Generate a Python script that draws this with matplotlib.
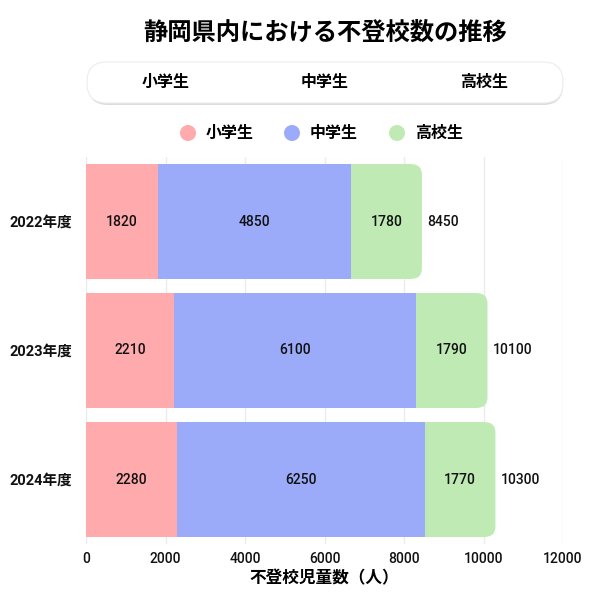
import matplotlib
matplotlib.use("Agg")
import matplotlib.pyplot as plt
from matplotlib.patches import FancyBboxPatch, Circle
import numpy as np

plt.rcParams['font.family'] = ['Roboto', 'Noto Sans CJK JP', 'DejaVu Sans']

years = ["2022年度", "2023年度", "2024年度"]
series_names = ["小学生", "中学生", "高校生"]
elementary = [1820, 2210, 2280]
junior = [4850, 6100, 6250]
high = [1780, 1790, 1770]
totals = [8450, 10100, 10300]
colors = ["#ffaaad", "#9babfa", "#bfeab4"]
xticks = [0, 2000, 4000, 6000, 8000, 10000, 12000]

W = H = 600
fig = plt.figure(figsize=(6, 6), dpi=100)

def fx(px): return px / W
def fy(py): return 1 - py / H

ax = fig.add_axes([fx(86), fy(544), fx(563) - fx(86), fy(157) - fy(544)])
y = np.arange(len(years))
bh = 0.89

ax.barh(y, elementary, height=bh, color=colors[0], zorder=2)
ax.barh(y, junior, height=bh, left=elementary, color=colors[1], zorder=2)
left_h = np.array(elementary) + np.array(junior)
# rounded right-end green segments
rad_x = 270.0
rad_y = 0.08
for i in range(len(years)):
    w = high[i]
    ax.barh(y[i], w - rad_x, height=bh, left=left_h[i], color=colors[2], zorder=2)
    p = FancyBboxPatch((left_h[i], y[i] - bh / 2), w, bh,
                       boxstyle="round,pad=0,rounding_size=%f" % rad_x,
                       mutation_aspect=rad_y / rad_x,
                       facecolor=colors[2], edgecolor='none', zorder=1.9)
    ax.add_patch(p)

numfont = dict(fontsize=10, fontweight='medium', color='#111111', va='center', ha='center')
for i in range(len(years)):
    ax.text(elementary[i] / 2, y[i], str(elementary[i]), zorder=3, **numfont)
    ax.text(elementary[i] + junior[i] / 2, y[i], str(junior[i]), zorder=3, **numfont)
    ax.text(left_h[i] + high[i] / 2, y[i], str(high[i]), zorder=3, **numfont)
    ax.text(totals[i] + 130, y[i], str(totals[i]), zorder=3, fontsize=10,
            fontweight='medium', color='#111111', va='center', ha='left')

ax.set_xlim(0, 12000)
ax.set_ylim(len(years) - 0.5, -0.5)
ax.set_xticks(xticks)
ax.set_xticklabels([str(t) for t in xticks], fontsize=10, fontweight='medium')
ax.set_yticks(y)
ax.set_yticklabels(years, fontsize=10.5, fontweight='bold')
ax.tick_params(axis='both', length=0, colors='#111111')
ax.tick_params(axis='x', pad=6)
ax.tick_params(axis='y', pad=10)
ax.grid(axis='x', color='#ebebeb', linewidth=1, zorder=0)
ax.set_axisbelow(True)
for s in ax.spines.values():
    s.set_visible(False)
ax.set_xlabel("不登校児童数（人）", fontsize=12, fontweight='bold', labelpad=2,
              family=['Noto Sans CJK JP', 'DejaVu Sans'])

# title
fig.text(fx(325), fy(33), "静岡県内における不登校数の推移", fontsize=17.5, fontweight='bold',
         ha='center', va='center', family=['Noto Sans CJK JP', 'DejaVu Sans'])

# toggle box with shadow
sh = FancyBboxPatch((fx(88), fy(105)), fx(563) - fx(88), fy(63) - fy(104),
                    boxstyle="round,pad=0,rounding_size=0.033",
                    mutation_aspect=1, transform=fig.transFigure,
                    facecolor='#dcdcdc', edgecolor='none', zorder=0)
fig.patches.append(sh)
bx = FancyBboxPatch((fx(87), fy(103)), fx(563) - fx(87), fy(62) - fy(103),
                    boxstyle="round,pad=0,rounding_size=0.033",
                    mutation_aspect=1, transform=fig.transFigure,
                    facecolor='white', edgecolor='#ececec', linewidth=0.8, zorder=1)
fig.patches.append(bx)
for name, cx in zip(series_names, [166, 325, 484]):
    fig.text(fx(cx), fy(82), name, fontsize=11.5, fontweight='bold', ha='center', va='center',
             family=['Noto Sans CJK JP', 'DejaVu Sans'], zorder=2)

# legend
for name, c, cx in zip(series_names, colors, [188, 292, 397]):
    circ = Circle((fx(cx), fy(133)), radius=fx(8), transform=fig.transFigure,
                  facecolor=c, edgecolor='none')
    fig.patches.append(circ)
    fig.text(fx(cx + 18), fy(133), name, fontsize=11.5, fontweight='bold', ha='left', va='center',
             family=['Noto Sans CJK JP', 'DejaVu Sans'])

fig.savefig("out.png", dpi=100, facecolor='white')
